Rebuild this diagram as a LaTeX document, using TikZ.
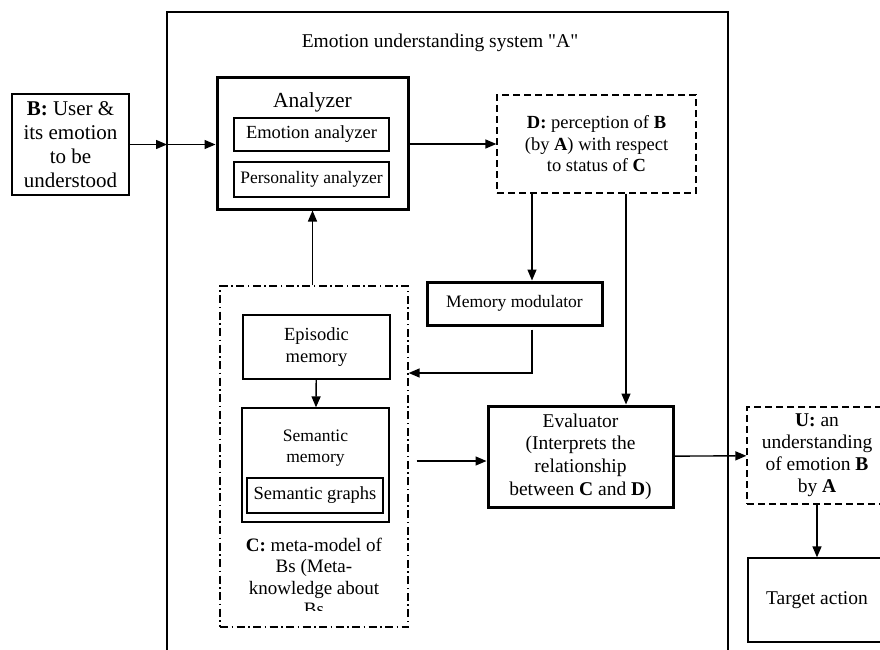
\documentclass[tikz,border=0pt]{standalone}
\usepackage{fontspec}
\setmainfont{Liberation Serif}
\usetikzlibrary{arrows.meta,positioning}
\newcommand{\txtsize}[2]{\fontsize{#1}{#2}\selectfont}

\begin{document}
\begin{tikzpicture}[
  x=1pt,y=-1pt,
  box/.style={draw,align=center,inner sep=0pt,line width=1.3pt,font=\txtsize{18.5}{21.5}},
  hard/.style={box,line width=3pt},
  dashbox/.style={box,dash pattern=on 7pt off 4pt},
  dotbox/.style={box,dash pattern=on 8pt off 3.5pt on 1.5pt off 3.5pt},
  txt/.style={align=center,inner sep=0pt,font=\txtsize{18.5}{21.5}},
  arr/.style={-{Triangle[length=11pt,width=9pt]},line width=1.4pt}
]
\useasboundingbox (0,0) rectangle (880,649);
\clip (0,0) rectangle (880,649);
% system A
\node[draw,line width=2.8pt,minimum width=561pt,minimum height=680pt,inner sep=0pt] (sys) at (447.5,352) {};
\node[txt,font=\txtsize{19.5}{22}] (title) at (440,43) {Emotion understanding system \textquotedbl A\textquotedbl};
% input user
\node[box,minimum width=117pt,minimum height=101pt,font=\txtsize{21}{24}] (user) at (70.5,144.5) {\textbf{B:} User \&\\its emotion\\to be\\understood};
\coordinate (inB) at (167,144.5);
% analyzer
\node[hard,minimum width=191pt,minimum height=132pt] (ana) at (312.5,143) {};
\node[txt,font=\txtsize{21.5}{24}] (anatitle) at (312.5,102) {Analyzer};
\node[box,minimum width=155pt,minimum height=33pt] (emo) at (311.5,134.5) {Emotion analyzer};
\node[box,minimum width=155pt,minimum height=35pt,font=\txtsize{17.5}{20}] (pers) at (311.5,179.5) {Personality analyzer};
% perception
\node[dashbox,minimum width=199pt,minimum height=98pt] (perc) at (596.5,144) {\textbf{D:} perception of \textbf{B}\\(by \textbf{A}) with respect\\to status of \textbf{C}};
\node[hard,minimum width=175pt,minimum height=43pt,font=\txtsize{17.5}{20}] (modul) at (514.5,303.5) {Memory modulator};
% meta-model
\node[dotbox,minimum width=188pt,minimum height=341pt] (meta) at (314,456.5) {};
\node[box,minimum width=147pt,minimum height=64pt] (epi) at (316.5,347) {Episodic\\memory};
\node[box,minimum width=147pt,minimum height=114pt] (sem) at (315.5,465) {};
\node[txt,font=\txtsize{17.5}{21}] (semtxt) at (315.5,448) {Semantic\\memory};
\node[box,minimum width=136pt,minimum height=35pt] (graphs) at (315,495.5) {Semantic graphs};
\begin{scope}
  \clip (220,286) rectangle (408,610);
  \node[txt,font=\txtsize{19}{21.5}] (metatxt) at (314,577) {\textbf{C:} meta-model of\\Bs (Meta-\\knowledge about\\Bs};
\end{scope}
% evaluator and output
\node[hard,minimum width=185pt,minimum height=101pt,font=\txtsize{19.5}{22.7}] (eval) at (580.5,456.5) {Evaluator\\(Interprets the\\relationship\\between \textbf{C} and \textbf{D})};
\node[dashbox,minimum width=140pt,minimum height=97pt,font=\txtsize{19.5}{22}] (under) at (817,455.5) {\textbf{U:} an\\understanding\\of emotion \textbf{B}\\by \textbf{A}};
\node[box,minimum width=138pt,minimum height=84pt,font=\txtsize{19.5}{22}] (target) at (817,600) {Target action};
\coordinate (dm) at (532,0);
\coordinate (de) at (626,0);
\coordinate (mc) at (0,373);
\coordinate (ce) at (0,461);
\draw[arr] (user) -- (inB);
\draw[arr] (inB) -- (ana.west |- inB);
\draw[arr] (ana.east |- perc) -- (perc.west);
\draw[arr] (perc.south -| dm) -- (modul.north -| dm);
\draw[arr] (perc.south -| de) -- (eval.north -| de);
\draw[arr] (modul.south -| dm) ++(0,3) |- (meta.east |- mc);
\draw[arr] (meta.north -| ana.south) -- (ana.south);
\draw[arr] (epi) -- (sem);
\draw[arr] ([xshift=8pt]meta.east |- ce) -- (eval.west |- ce);
\draw[arr] (eval) -- (under);
\draw[arr] (under) -- (target);
\end{tikzpicture}
\end{document}
